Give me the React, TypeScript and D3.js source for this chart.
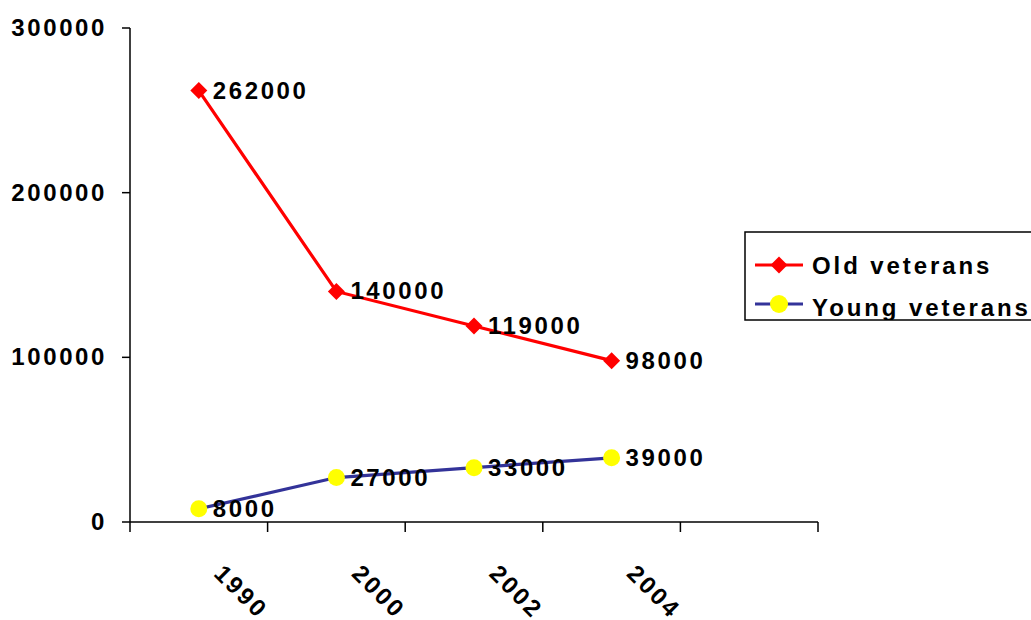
import React from "react";
import * as d3 from "d3";

const categories = ["1990", "2000", "2002", "2004", ""];
const oldVeterans = [262000, 140000, 119000, 98000];
const youngVeterans = [8000, 27000, 33000, 39000];
const yTicks = [0, 100000, 200000, 300000];
const seriesNames = ["Old veterans", "Young veterans"];

const W = 1031;
const H = 620;
const FONT = "'Liberation Sans', Arial, sans-serif";

export default function App() {
  const x = d3.scaleBand<string>().domain(categories).range([130, 818]);
  const y = d3.scaleLinear().domain([0, 300000]).range([522, 28]);
  const cx = (i: number) => (x(categories[i]) as number) + x.bandwidth() / 2;
  const line = d3
    .line<number>()
    .x((_, i) => cx(i))
    .y((d) => y(d));

  const edges = categories.map((c) => x(c) as number).concat([818]);

  const diamond = (px: number, py: number, r: number) =>
    `M${px},${py - r}L${px + r},${py}L${px},${py + r}L${px - r},${py}Z`;

  const numStyle: React.CSSProperties = {
    fontFamily: FONT,
    fontWeight: "bold",
    fontSize: 24,
    letterSpacing: 2.6,
  };

  return (
    <svg
      width={W}
      height={H}
      style={{ position: "absolute", left: 0, top: 0, background: "#fff" }}
    >
      <defs>
        <clipPath id="legclip">
          <rect x={745} y={232} width={300} height={88} />
        </clipPath>
      </defs>
      {/* Y axis */}
      <line x1={130} x2={130} y1={y(300000)} y2={y(0)} stroke="#000" strokeWidth={1.5} />
      {yTicks.map((t) => (
        <g key={t}>
          <line x1={122} x2={130} y1={y(t)} y2={y(t)} stroke="#000" strokeWidth={1.5} />
          <text x={107} y={y(t) + 8} textAnchor="end" style={numStyle}>
            {t}
          </text>
        </g>
      ))}
      {/* X axis */}
      <line x1={130} x2={818} y1={522} y2={522} stroke="#000" strokeWidth={1.5} />
      {edges.map((e, i) => (
        <line key={i} x1={e} x2={e} y1={522} y2={532} stroke="#000" strokeWidth={1.5} />
      ))}
      {categories.map((c, i) =>
        c ? (
          <text
            key={c}
            transform={`translate(${cx(i) + 14},${575}) rotate(45)`}
            style={numStyle}
          >
            {c}
          </text>
        ) : null
      )}
      {/* Lines */}
      <path d={line(oldVeterans) || ""} fill="none" stroke="#ff0000" strokeWidth={3.2} />
      <path d={line(youngVeterans) || ""} fill="none" stroke="#333399" strokeWidth={3.2} />
      {oldVeterans.map((v, i) => (
        <g key={"o" + i}>
          <path d={diamond(cx(i), y(v), 8.5)} fill="#ff0000" />
          <text x={cx(i) + 14} y={y(v) + 8} style={numStyle}>
            {v}
          </text>
        </g>
      ))}
      {youngVeterans.map((v, i) => (
        <g key={"y" + i}>
          <circle cx={cx(i)} cy={y(v)} r={8.5} fill="#ffff00" />
          <text x={cx(i) + 14} y={y(v) + 8} style={numStyle}>
            {v}
          </text>
        </g>
      ))}
      {/* Legend */}
      <g clipPath="url(#legclip)">
        <rect x={745} y={232} width={300} height={88} fill="#fff" />
        <line x1={755} x2={803} y1={265} y2={265} stroke="#ff0000" strokeWidth={3} />
        <path d={diamond(779, 265, 8.5)} fill="#ff0000" />
        <text x={812} y={274} style={{ ...numStyle, letterSpacing: 2.9 }}>
          {seriesNames[0]}
        </text>
        <line x1={755} x2={803} y1={304} y2={304} stroke="#333399" strokeWidth={3} />
        <circle cx={779} cy={304} r={9} fill="#ffff00" />
        <text x={812} y={316} style={{ ...numStyle, letterSpacing: 2.9 }}>
          {seriesNames[1]}
        </text>
      </g>
      <rect x={745} y={232} width={300} height={88} fill="none" stroke="#000" strokeWidth={1.5} />
    </svg>
  );
}
